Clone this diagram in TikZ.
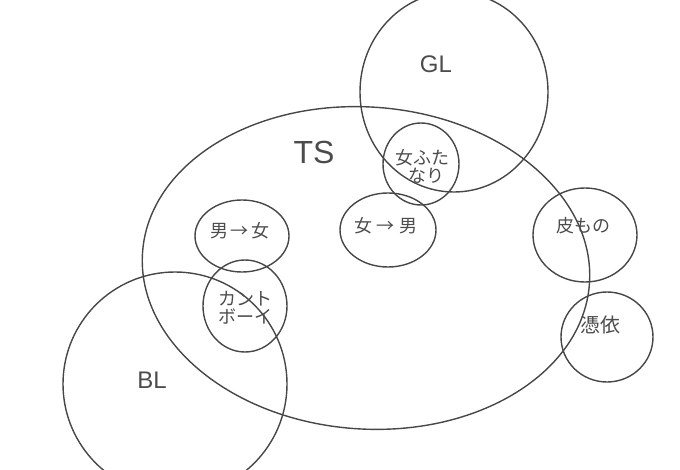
\documentclass[tikz,border=0pt]{standalone}
\usepackage{fontspec}
\newfontfamily\jpfont{Noto Sans CJK JP}
\setmainfont{Liberation Sans}
\tikzset{
  pen/.style={draw=black!72, line width=1.4pt},
  tag/.style={text=black!70, font=\jpfont\fontsize{18}{20}\selectfont, align=center, inner sep=0pt}
}
\begin{document}
\begin{tikzpicture}[x=1pt, y=-1pt]
\useasboundingbox (0,0) rectangle (680,470);

% Big TS ellipse
\draw[pen, rotate around={-4:(366,268)}] (366,268) ellipse [x radius=224, y radius=161];

% GL circle (cut at top)
\begin{scope}
  \clip (0,0) rectangle (680,470);
  \draw[pen] (454,92) ellipse [x radius=94, y radius=100];
  % BL circle (cut at bottom)
  \draw[pen] (175,384) ellipse [x radius=112, y radius=112];
\end{scope}

% Small circles
\draw[pen] (421,164) ellipse [x radius=38, y radius=41];
\draw[pen] (242,236) ellipse [x radius=47, y radius=36];
\draw[pen] (388,230) ellipse [x radius=48, y radius=37];
\draw[pen] (245,306) ellipse [x radius=42, y radius=46];
\draw[pen] (585,235) ellipse [x radius=52, y radius=47];
\draw[pen] (607,337) ellipse [x radius=46, y radius=45];

% Labels
\node[tag, font=\fontsize{24}{26}\selectfont] (gl) at (436,64) {GL};
\node[tag, font=\fontsize{32}{34}\selectfont] (ts) at (314,152) {TS};
\node[tag, font=\fontsize{24}{26}\selectfont] (bl) at (152,380) {BL};
\node[tag] (futa) at (422,166) {女ふた\\[-2pt]\hspace*{8pt}なり};
\node[tag] (mtof) at (240,231) {男\,→\,女};
\node[tag] (ftom) at (386,226) {女\ →\ 男};
\node[tag] (cunt) at (245,308) {カント\\[-2pt]ボーイ};
\node[tag] (kawa) at (583,226) {皮もの};
\node[tag, font=\jpfont\fontsize{20}{22}\selectfont] (hyoi) at (600,325) {憑依};

\end{tikzpicture}
\end{document}
